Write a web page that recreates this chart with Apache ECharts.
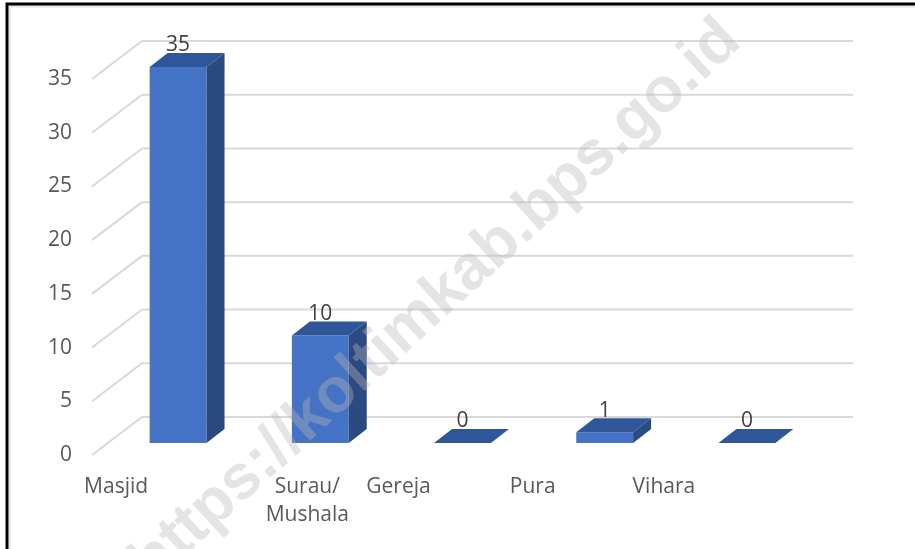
<!DOCTYPE html>
<html>
<head>
<meta charset="utf-8">
<script src="https://cdn.jsdelivr.net/npm/echarts@6/dist/echarts.min.js"></script>
<style>
  html, body { margin: 0; padding: 0; background: #fff; }
  #chart { width: 915px; height: 549px; }
</style>
</head>
<body>
<div id="chart"></div>
<script>
// data
var categories = ['Masjid', 'Surau/\nMushala', 'Gereja', 'Pura', 'Vihara'];
var values = [35, 10, 0, 1, 0];
var yTicks = [0, 5, 10, 15, 20, 25, 30, 35];

// excel-ish 3d look
var DX = 18, DY = -14;          // bar depth
var WALL_DX = 35, WALL_DY = -26; // back wall from bar front plane
var FLOOR_DX = -15, FLOOR_DY = 12;
var labelShift = [-62, -13, -64, -72, -83]; // x labels sit left of bars
var FONT = '"Open Sans", "Noto Sans", sans-serif';

var myChart = echarts.init(document.getElementById('chart'));

var rich = {};
labelShift.forEach(function (s, i) {
  rich['r' + i] = {
    fontSize: 21, fontFamily: FONT, color: '#595959',
    lineHeight: 28, padding: [0, -2 * s, 0, 0]
  };
});

function renderGrid(params, api) {
  var v = api.value(1);
  var y = api.coord([0, v])[1];
  var cs = params.coordSys;
  var left = cs.x, right = cs.x + cs.width;
  var st = { stroke: '#d9d9d9', lineWidth: 2 };
  return {
    type: 'group',
    children: [
      { type: 'line', shape: { x1: left + FLOOR_DX, y1: y + FLOOR_DY, x2: left + WALL_DX, y2: y + WALL_DY }, style: st },
      { type: 'line', shape: { x1: left + WALL_DX, y1: y + WALL_DY, x2: right + WALL_DX, y2: y + WALL_DY }, style: st }
    ]
  };
}

function renderBar(params, api) {
  var i = api.value(0), v = api.value(1);
  var p0 = api.coord([i, 0]);
  var p1 = api.coord([i, v]);
  var w = api.size([1, 0])[0] * 0.4;
  var x0 = p0[0] - w / 2, x1 = p0[0] + w / 2;
  var yb = p0[1], yt = p1[1];
  var kids = [];
  if (v > 0) {
    kids.push({ type: 'rect', shape: { x: x0, y: yt, width: w, height: yb - yt }, style: { fill: '#4472c4' } });
    kids.push({ type: 'polygon', shape: { points: [[x1, yt], [x1 + DX, yt + DY], [x1 + DX, yb + DY], [x1, yb]] }, style: { fill: '#2b4a80' } });
  }
  kids.push({ type: 'polygon', shape: { points: [[x0, yt], [x1, yt], [x1 + DX, yt + DY], [x0 + DX, yt + DY]] }, style: { fill: '#30569a' } });
  kids.push({
    type: 'text',
    style: {
      text: String(v), x: p0[0], y: yt + DY + 3,
      align: 'center', verticalAlign: 'bottom',
      textAlign: 'center', textVerticalAlign: 'bottom',
      fill: '#404040', font: '21px ' + FONT
    }
  });
  return { type: 'group', children: kids };
}

var option = {
  backgroundColor: '#fff',
  animation: false,
  grid: [
    { left: 107, right: 97, top: 67, bottom: 106 },
    { left: 107, right: 97, top: 79, bottom: 94 }
  ],
  xAxis: [
    {
      type: 'category', gridIndex: 0, data: categories, boundaryGap: true,
      axisLine: { show: false }, axisTick: { show: false },
      axisLabel: {
        margin: 30, interval: 0,
        formatter: function (val, idx) {
          return val.split('\n').map(function (t) { return '{r' + idx + '|' + t + '}'; }).join('\n');
        },
        rich: rich
      }
    },
    { type: 'category', gridIndex: 1, data: categories, show: false }
  ],
  yAxis: [
    { type: 'value', gridIndex: 0, min: 0, max: 35, interval: 5, show: false },
    {
      type: 'value', gridIndex: 1, min: 0, max: 35, interval: 5,
      axisLine: { show: false }, axisTick: { show: false }, splitLine: { show: false },
      axisLabel: { margin: 35, fontSize: 21, fontFamily: FONT, color: '#595959' }
    }
  ],
  graphic: [
    { type: 'rect', shape: { x: 9.5, y: 6.5, width: 1000, height: 1000 }, style: { fill: 'none', stroke: '#e3e3e3', lineWidth: 2 }, silent: true },
    { type: 'rect', shape: { x: 7, y: 4, width: 1000, height: 1000 }, style: { fill: 'none', stroke: '#000', lineWidth: 3 }, silent: true },
    {
      type: 'text', x: 436, y: 302, rotation: 42.5 * Math.PI / 180, z: 100, silent: true,
      style: {
        text: 'https://koltimkab.bps.go.id',
        font: 'bold 63px "Liberation Sans", Arial, sans-serif',
        fill: 'rgba(185,185,185,0.38)',
        align: 'center', verticalAlign: 'middle',
        textAlign: 'center', textVerticalAlign: 'middle'
      }
    }
  ],
  series: [
    {
      type: 'custom', xAxisIndex: 0, yAxisIndex: 0, z: 1, silent: true,
      renderItem: renderGrid,
      data: yTicks.map(function (v) { return [0, v]; })
    },
    {
      type: 'custom', xAxisIndex: 0, yAxisIndex: 0, z: 2, silent: true,
      renderItem: renderBar,
      data: values.map(function (v, i) { return [i, v]; })
    }
  ]
};
myChart.setOption(option);
</script>
</body>
</html>
